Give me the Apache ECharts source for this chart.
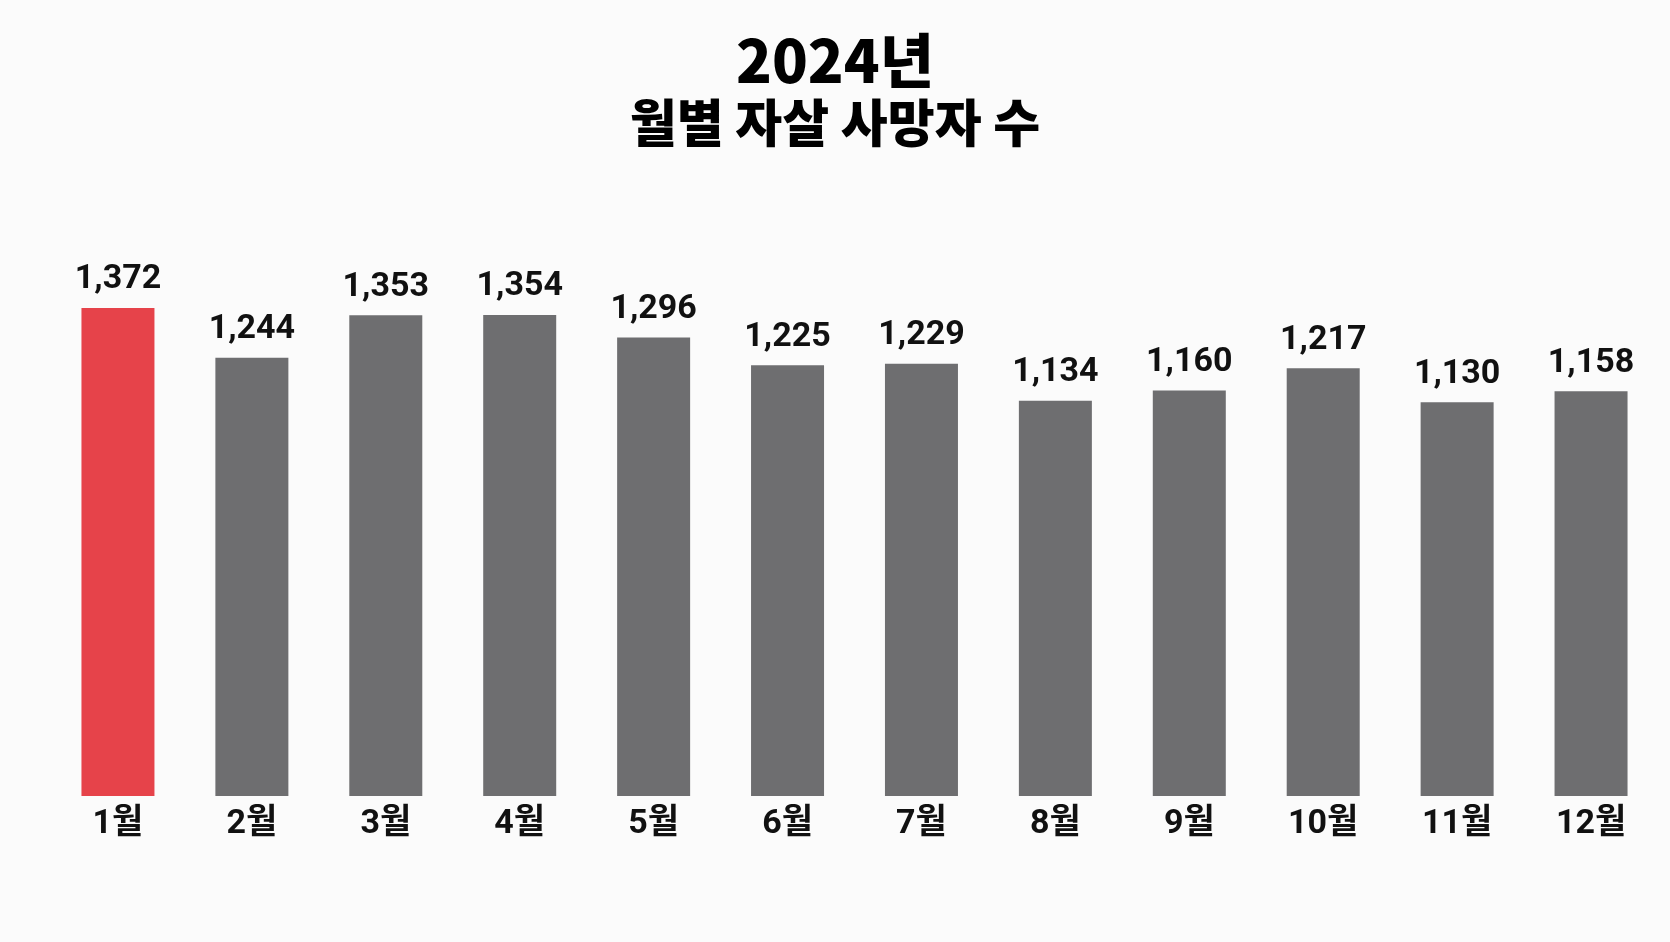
<!DOCTYPE html>
<html>
<head>
<meta charset="utf-8">
<script src="https://cdn.jsdelivr.net/npm/echarts@6/dist/echarts.min.js"></script>
<style>
  html, body { margin: 0; padding: 0; background: #fbfbfb; }
  #main { width: 1670px; height: 942px; }
</style>
</head>
<body>
<div id="main"></div>
<script>
// 월별 데이터
var months = ['1월', '2월', '3월', '4월', '5월', '6월', '7월', '8월', '9월', '10월', '11월', '12월'];
var deaths = [1372, 1244, 1353, 1354, 1296, 1225, 1229, 1134, 1160, 1217, 1130, 1158];
var highlightIndex = 0;

var FONT = "Roboto, 'Noto Sans CJK KR', sans-serif";

var chart = echarts.init(document.getElementById('main'));

var option = {
  backgroundColor: '#fbfbfb',
  title: [{
    text: '2024년',
    left: 'center',
    top: 26,
    textStyle: {
      fontFamily: "'Noto Sans CJK KR', sans-serif",
      fontWeight: 900,
      fontSize: 59,
      color: '#000'
    }
  }, {
    text: '월별 자살 사망자 수',
    left: 'center',
    top: 92,
    textStyle: {
      fontFamily: "'Noto Sans CJK KR', sans-serif",
      fontWeight: 900,
      fontSize: 51,
      color: '#000'
    }
  }],
  grid: {
    left: 51,
    right: 12,
    top: 297,
    bottom: 146
  },
  xAxis: {
    type: 'category',
    data: months,
    axisLine: { show: false },
    axisTick: { show: false },
    axisLabel: {
      margin: 12,
      color: '#111',
      fontFamily: FONT,
      fontWeight: 'bold',
      fontSize: 34
    }
  },
  // 막대 기준선은 0이 아님 (원본 그림의 막대 높이 비율에 맞춤)
  yAxis: {
    type: 'value',
    min: 120,
    max: 1400,
    show: false,
    splitLine: { show: false }
  },
  series: [{
    type: 'bar',
    barWidth: 73,
    data: deaths.map(function (v, i) {
      return {
        value: v,
        itemStyle: { color: i === highlightIndex ? '#e6434a' : '#6e6e70' }
      };
    }),
    label: {
      show: true,
      position: 'top',
      distance: 11,
      color: '#111',
      fontFamily: FONT,
      fontWeight: 'bold',
      fontSize: 34,
      formatter: function (p) {
        return p.value.toLocaleString('en-US');
      }
    },
    animation: false
  }]
};

chart.setOption(option);
</script>
</body>
</html>
